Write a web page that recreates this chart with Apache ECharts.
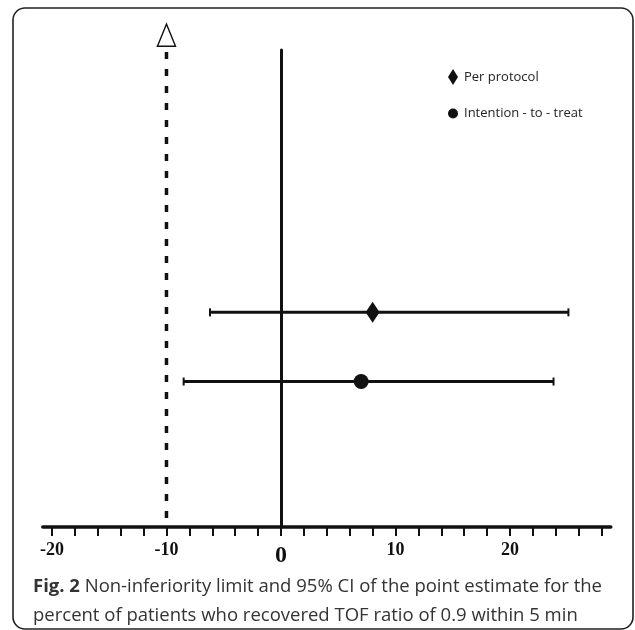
<!DOCTYPE html>
<html>
<head>
<meta charset="utf-8">
<script src="https://cdn.jsdelivr.net/npm/echarts@6/dist/echarts.min.js"></script>
<style>
  html, body { margin: 0; padding: 0; background: #fff; }
  #chart { width: 635px; height: 630px; }
</style>
</head>
<body>
<div id="chart"></div>
<script>
// ---- data ----
const categories = ['Per protocol', 'Intention - to - treat'];
const rowPos = [4.5, 3.05];          // vertical position of each row (y value)
const estimates = [8, 7];            // point estimates (%)
const lowerCI = [-6.2, -8.5];        // lower 95% CI
const upperCI = [25.1, 23.8];        // upper 95% CI
const nonInferiorityLimit = -10;
const limitLineTop = 9.96;
const limitMarkerY = 10.31;
const tickLabels = [-20, -10, 0, 10, 20];
const captionBold = 'Fig. 2';
const captionLine1 = ' Non-inferiority limit and 95% CI of the point estimate for the';
const captionLine2 = 'percent of patients who recovered TOF ratio of 0.9 within 5 min';

const INK = '#111';
const chart = echarts.init(document.getElementById('chart'), null, { renderer: 'canvas' });

const errorData = categories.map((c, i) => [rowPos[i], lowerCI[i], upperCI[i]]);

const option = {
  backgroundColor: '#fff',
  animation: false,
  title: {
    left: 28,
    top: 567,
    text: '{b|' + captionBold + '}' + captionLine1 + '\n' + captionLine2,
    textStyle: {
      fontFamily: 'Open Sans',
      fontSize: 18.5,
      fontWeight: 'normal',
      color: '#333',
      lineHeight: 29,
      rich: {
        b: { fontFamily: 'Open Sans', fontSize: 18.5, fontWeight: 'bold', color: '#333', lineHeight: 29 }
      }
    }
  },
  legend: {
    orient: 'vertical',
    left: 443,
    top: 64,
    itemWidth: 10,
    itemHeight: 16,
    itemGap: 22,
    data: categories,
    formatter: function (name) { return '{t|' + name + '}'; },
    textStyle: {
      rich: { t: { fontFamily: 'Open Sans', fontSize: 13, color: '#222', padding: [0, 0, 0, 1] } }
    }
  },
  graphic: [{
    type: 'rect',
    shape: { x: 13, y: 8, width: 620, height: 621, r: 12 },
    style: { fill: 'none', stroke: '#222', lineWidth: 1.6 },
    silent: true
  }],
  grid: [
    { left: 52, right: 33.4, top: 50, bottom: 103 },
    { left: 42.8, right: 24.2, top: 50, bottom: 103 }
  ],
  xAxis: [{
    gridIndex: 0,
    type: 'value',
    min: -20,
    max: 28,
    interval: 2,
    axisLine: { show: false },
    axisTick: { show: true, length: 9, lineStyle: { color: INK, width: 2 } },
    splitLine: { show: false },
    axisLabel: {
      margin: 14,
      formatter: function (v) {
        if (tickLabels.indexOf(v) < 0) return '';
        return v === 0 ? '{z|0}' : '{n|' + v + '}';
      },
      rich: {
        n: { fontFamily: 'Liberation Serif', fontWeight: 'bold', fontSize: 18, color: INK },
        z: { fontFamily: 'Liberation Serif', fontWeight: 'bold', fontSize: 24, color: INK, padding: [3, 0, 0, 0] }
      }
    }
  }, {
    gridIndex: 1,
    type: 'value',
    min: -20.8,
    max: 28.8,
    axisLine: { show: true, lineStyle: { color: INK, width: 3.5 } },
    axisTick: { show: false },
    axisLabel: { show: false },
    splitLine: { show: false }
  }],
  yAxis: [{
    gridIndex: 0,
    type: 'value', min: 0, max: 10,
    show: false
  }, {
    gridIndex: 1,
    type: 'value', min: 0, max: 10,
    axisLine: { show: true, onZero: true, lineStyle: { color: INK, width: 3 } },
    axisTick: { show: false },
    axisLabel: { show: false },
    splitLine: { show: false }
  }],
  series: [{
    type: 'line',
    name: 'limit',
    xAxisIndex: 1, yAxisIndex: 1,
    data: [[nonInferiorityLimit, limitLineTop], [nonInferiorityLimit, 0]],
    symbol: 'none',
    lineStyle: { color: INK, width: 3.5, type: [7, 10] },
    silent: true,
    z: 3
  }, {
    type: 'scatter',
    name: 'limitMarker',
    xAxisIndex: 1, yAxisIndex: 1,
    data: [[nonInferiorityLimit, limitMarkerY]],
    symbol: 'triangle',
    symbolSize: [18, 22],
    clip: false,
    itemStyle: { color: '#fff', borderColor: INK, borderWidth: 1.5, opacity: 1 },
    silent: true
  }, {
    type: 'custom',
    name: 'ci',
    xAxisIndex: 1, yAxisIndex: 1,
    data: errorData,
    encode: { x: [1, 2], y: 0 },
    silent: true,
    renderItem: function (params, api) {
      const y = api.value(0);
      const lo = api.coord([api.value(1), y]);
      const hi = api.coord([api.value(2), y]);
      const cap = 4;
      return {
        type: 'group',
        children: [
          { type: 'line', shape: { x1: lo[0], y1: lo[1], x2: hi[0], y2: hi[1] }, style: { stroke: INK, lineWidth: 3 } },
          { type: 'line', shape: { x1: lo[0], y1: lo[1] - cap, x2: lo[0], y2: lo[1] + cap }, style: { stroke: INK, lineWidth: 2 } },
          { type: 'line', shape: { x1: hi[0], y1: hi[1] - cap, x2: hi[0], y2: hi[1] + cap }, style: { stroke: INK, lineWidth: 2 } }
        ]
      };
    },
    z: 4
  }, {
    type: 'scatter',
    name: categories[0],
    xAxisIndex: 1, yAxisIndex: 1,
    data: [[estimates[0], rowPos[0]]],
    symbol: 'diamond',
    symbolSize: [14, 21],
    itemStyle: { color: INK, opacity: 1 },
    z: 5
  }, {
    type: 'scatter',
    name: categories[1],
    xAxisIndex: 1, yAxisIndex: 1,
    data: [[estimates[1], rowPos[1]]],
    symbol: 'circle',
    symbolSize: 15,
    itemStyle: { color: INK, opacity: 1 },
    z: 5
  }]
};
chart.setOption(option);
</script>
</body>
</html>
